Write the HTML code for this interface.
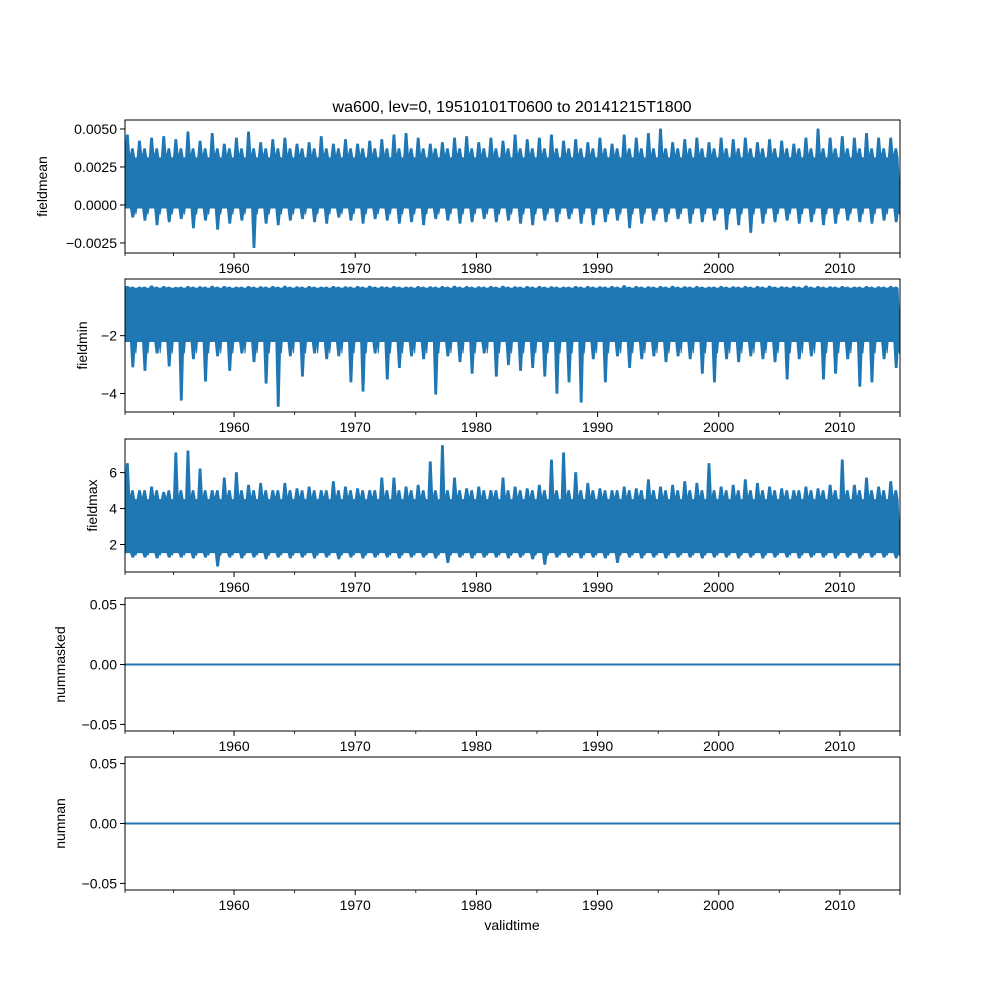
<!DOCTYPE html>
<html><head><meta charset="utf-8"><style>
body{margin:0;background:#fff}
svg text{font-family:"Liberation Sans","DejaVu Sans",sans-serif;fill:#000}
</style></head><body>
<svg id="fig" width="1000" height="1000" viewBox="0 0 1000 1000" xmlns="http://www.w3.org/2000/svg">
<rect width="1000" height="1000" fill="#fff"/>
<text x="512" y="112" font-size="16" text-anchor="middle">wa600, lev=0, 19510101T0600 to 20141215T1800</text>
<text x="512" y="930" font-size="14" text-anchor="middle">validtime</text>
</svg>
<script>
const years=[];for(let y=1951;y<=2014;y++)years.push(y);
const majorTicks=[1960,1970,1980,1990,2000,2010];
const minorTicks=[1955,1965,1975,1985,1995,2005];
// fieldmean yearly extremes
const meanHi=[.0046,.0042,.0044,.0045,.0043,.0048,.0042,.0047,.0040,.0044,.0048,.0041,.0043,.0044,.0040,.0041,.0045,.0040,.0043,.0040,.0042,.0043,.0046,.0047,.0044,.0040,.0041,.0044,.0045,.0041,.0044,.0042,.0046,.0043,.0044,.0046,.0042,.0043,.0041,.0044,.0040,.0046,.0044,.0047,.0050,.0041,.0043,.0044,.0041,.0044,.0043,.0044,.0041,.0043,.0042,.0040,.0044,.0050,.0044,.0045,.0044,.0047,.0044,.0044];
const meanLo=[-.0008,-.0010,-.0013,-.0011,-.0009,-.0015,-.0010,-.0016,-.0012,-.0010,-.0028,-.0012,-.0013,-.0010,-.0009,-.0011,-.0012,-.0008,-.0010,-.0012,-.0009,-.0010,-.0012,-.0011,-.0013,-.0009,-.0010,-.0012,-.0011,-.0009,-.0011,-.0010,-.0012,-.0013,-.0010,-.0011,-.0009,-.0012,-.0013,-.0011,-.0010,-.0015,-.0012,-.0010,-.0011,-.0009,-.0012,-.0011,-.0010,-.0016,-.0013,-.0018,-.0012,-.0011,-.0010,-.0012,-.0011,-.0013,-.0012,-.0010,-.0011,-.0012,-.0010,-.0011];
const meanCore=[.0031,-.0002], meanSec=[.0037,-.0006];
// fieldmin yearly extremes
const minHi=[-.30,-.32,-.28,-.30,-.33,-.30,-.31,-.29,-.30,-.32,-.30,-.31,-.30,-.29,-.31,-.30,-.32,-.30,-.31,-.30,-.29,-.31,-.30,-.32,-.30,-.31,-.30,-.29,-.30,-.31,-.30,-.29,-.31,-.30,-.30,-.31,-.32,-.30,-.30,-.31,-.30,-.27,-.30,-.31,-.30,-.29,-.31,-.30,-.32,-.30,-.31,-.30,-.30,-.29,-.31,-.30,-.28,-.30,-.31,-.30,-.32,-.30,-.31,-.30];
const minLo=[-3.08,-3.2,-2.6,-3.05,-4.23,-2.8,-3.57,-2.7,-3.2,-2.6,-2.9,-3.64,-4.44,-2.7,-3.4,-2.6,-2.8,-2.7,-3.6,-3.92,-2.6,-3.5,-3.1,-2.7,-2.8,-4.02,-2.7,-2.9,-3.3,-2.6,-3.4,-3.0,-3.2,-3.1,-3.4,-3.99,-3.6,-4.3,-2.8,-3.6,-2.7,-3.1,-2.8,-2.7,-2.9,-2.7,-2.8,-3.3,-3.6,-2.8,-2.9,-2.7,-2.8,-2.9,-3.5,-2.8,-2.7,-3.5,-3.3,-2.8,-3.75,-3.6,-2.8,-3.1];
const minCore=[-0.36,-2.2], minSec=[-0.32,-2.6];
// fieldmax yearly extremes
const maxHi=[6.5,5.0,5.2,4.9,7.1,7.2,6.2,5.0,5.7,6.0,5.3,5.4,5.0,5.4,5.1,5.2,5.0,5.5,5.2,5.1,5.0,5.7,5.7,5.2,5.3,6.6,7.5,5.7,5.1,5.2,5.0,5.7,5.2,5.1,5.3,6.7,7.1,6.0,5.4,5.1,5.0,5.2,5.1,5.6,5.2,5.3,5.5,5.4,6.5,5.2,5.3,5.6,5.4,5.2,5.1,5.0,5.2,5.1,5.3,6.7,5.3,5.7,5.2,5.5];
const maxLo=[1.3,1.3,1.25,1.3,1.3,1.25,1.3,0.8,1.3,1.25,1.3,1.2,1.3,1.25,1.3,1.25,1.3,1.2,1.3,1.25,1.3,1.3,1.25,1.3,1.3,1.25,1.0,1.3,1.25,1.3,1.3,1.25,1.3,1.2,0.9,1.3,1.3,1.25,1.3,1.25,1.0,1.3,1.25,1.3,1.25,1.3,1.3,1.25,1.3,1.3,1.25,1.3,1.25,1.3,1.3,1.25,1.3,1.3,1.25,1.3,1.25,1.3,1.3,1.25];
const maxCore=[4.5,1.55], maxSec=[5.0,1.4];
const zeroVals=[0,0];

const svg=document.getElementById('fig');
const NS='http://www.w3.org/2000/svg';
const L=125,R=900,T0=1951.0,T1=2014.96;
const xs=t=>L+(t-T0)/(T1-T0)*(R-L);
function mk(tag,attrs,parent){const e=document.createElementNS(NS,tag);for(const k in attrs)e.setAttribute(k,attrs[k]);(parent||svg).appendChild(e);return e;}
const C='#1f77b4';
const panels=[
 {name:'fieldmean',top:120,bot:253,ymin:-.00316,ymax:.00559,ticks:[-.0025,0,.0025,.005],fmt:v=>(v<0?'\u2212':'')+Math.abs(v).toFixed(4),hi:meanHi,lo:meanLo,core:meanCore,sec:meanSec,lx:47},
 {name:'fieldmin',top:279,bot:412,ymin:-4.64,ymax:-0.04,ticks:[-4,-2],fmt:v=>'\u2212'+Math.abs(v),hi:minHi,lo:minLo,core:minCore,sec:minSec,lx:87},
 {name:'fieldmax',top:439,bot:572,ymin:0.47,ymax:7.87,ticks:[2,4,6],fmt:v=>''+v,hi:maxHi,lo:maxLo,core:maxCore,sec:maxSec,lx:97},
 {name:'nummasked',top:598,bot:731,ymin:-.0555,ymax:.0555,ticks:[-.05,0,.05],fmt:v=>(v<0?'\u2212':'')+Math.abs(v).toFixed(2),zero:true,lx:65},
 {name:'numnan',top:757,bot:890,ymin:-.0555,ymax:.0555,ticks:[-.05,0,.05],fmt:v=>(v<0?'\u2212':'')+Math.abs(v).toFixed(2),zero:true,lx:65}
];
panels.forEach(p=>{
 const g=mk('g',{});
 
 
 const ys=v=>p.bot-(v-p.ymin)/(p.ymax-p.ymin)*(p.bot-p.top);
 const cp='clip-'+p.name;
 const cpe=mk('clipPath',{id:cp},g);mk('rect',{x:L,y:p.top,width:R-L,height:p.bot-p.top},cpe);
 const dg=mk('g',{'clip-path':'url(#'+cp+')'},g);
 if(p.zero){
  const ln=mk('line',{x1:xs(T0),x2:xs(T1),y1:ys(zeroVals[0]),y2:ys(zeroVals[1]),stroke:C,'stroke-width':2},dg);
  
  
 } else {
  const up=[],dn=[];
  const [ch,cl]=p.core,[sh,sl]=p.sec;
  years.forEach((y,i)=>{
   up.push([y,ch],[y+0.12,p.hi[i]],[y+0.27,p.hi[i]],[y+0.4,ch],[y+0.55,sh],[y+0.68,sh],[y+0.8,ch]);
   dn.push([y,cl],[y+0.45,cl],[y+0.57,p.lo[i]],[y+0.72,p.lo[i]],[y+0.85,cl],[y+0.9,sl],[y+0.98,cl]);
  });
  const pts=up.map(q=>xs(q[0])+','+ys(q[1])).concat(dn.reverse().map(q=>xs(q[0])+','+ys(q[1])));
  const poly=mk('polygon',{points:pts.join(' '),fill:C,stroke:C,'stroke-width':1,'stroke-linejoin':'round'},dg);
  
  
 }
 const fr=mk('rect',{x:L,y:p.top,width:R-L,height:p.bot-p.top,fill:'none',stroke:'#000','stroke-width':1},g);
 
 
 p.ticks.forEach(v=>{
  const y=ys(v);
  mk('line',{x1:L-5,x2:L,y1:y,y2:y,stroke:'#000','stroke-width':1},g);
  const t=mk('text',{x:L-8,y:y+5,'font-size':14,'text-anchor':'end'},g);t.textContent=p.fmt(v);
  
  
 });
 const yl=mk('text',{x:p.lx,y:(p.top+p.bot)/2,'font-size':14,'text-anchor':'middle',transform:'rotate(-90 '+p.lx+' '+((p.top+p.bot)/2)+')'},g);
 yl.textContent=p.name;
 
 
 [T0].concat(minorTicks).forEach(v=>{mk('line',{x1:xs(v),x2:xs(v),y1:p.bot,y2:p.bot+3,stroke:'#000','stroke-width':0.8},g);});
 majorTicks.forEach(v=>{
  mk('line',{x1:xs(v),x2:xs(v),y1:p.bot,y2:p.bot+5,stroke:'#000','stroke-width':1},g);
  const t=mk('text',{x:xs(v),y:p.bot+20,'font-size':14,'text-anchor':'middle'},g);t.textContent=v;
  
  
 });
 mk('line',{x1:xs(T1),x2:xs(T1),y1:p.bot,y2:p.bot+5,stroke:'#000','stroke-width':1},g);
});
</script>
</body></html>
